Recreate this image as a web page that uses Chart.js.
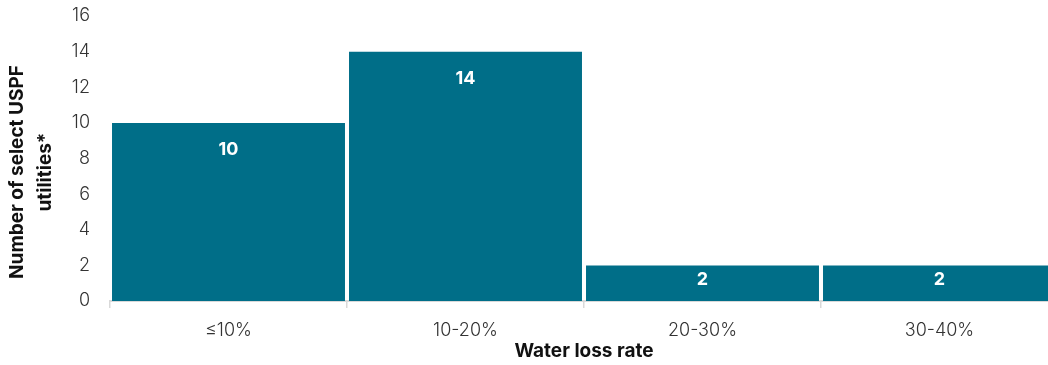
<!DOCTYPE html>
<html>
<head>
<meta charset="utf-8">
<script src="https://cdn.jsdelivr.net/npm/chart.js@4.4.0/dist/chart.umd.min.js"></script>
<style>
  html, body { margin: 0; padding: 0; overflow: hidden; background: #fff; }
  #wrap { width: 1060px; height: 365px; }
</style>
</head>
<body>
<div id="wrap"><canvas id="lossChart"></canvas></div>
<script>
  // data
  const categories = ['\u226410%', '10-20%', '20-30%', '30-40%'];
  const utilities = [10, 14, 2, 2];
  const yTicks = [0, 2, 4, 6, 8, 10, 12, 14, 16];
  const yTitle = ['Number of select USPF', 'utilities*'];
  const xTitle = 'Water loss rate';

  const barColor = '#006e88';
  const fontFamily = 'Inter, Roboto, sans-serif';

  // white value labels near the top of each bar
  const barLabelPlugin = {
    id: 'barLabels',
    afterDatasetsDraw(chart) {
      const ctx = chart.ctx;
      const meta = chart.getDatasetMeta(0);
      ctx.save();
      ctx.fillStyle = '#ffffff';
      ctx.font = 'bold 18px ' + fontFamily;
      ctx.textAlign = 'center';
      ctx.textBaseline = 'middle';
      meta.data.forEach((bar, i) => {
        const h = bar.base - bar.y;
        const y = bar.y + Math.min(27, h / 2 - 4);
        ctx.fillText(String(utilities[i]), bar.x, y);
      });
      ctx.restore();
    }
  };

  // two-line rotated y title
  const yTitlePlugin = {
    id: 'yTitle',
    afterDraw(chart) {
      const ctx = chart.ctx;
      ctx.save();
      ctx.fillStyle = '#111111';
      ctx.font = 'bold 19px ' + fontFamily;
      ctx.textAlign = 'center';
      ctx.textBaseline = 'middle';
      const cy = 172;
      [17, 45].forEach((x, i) => {
        ctx.save();
        ctx.translate(x, cy);
        ctx.rotate(-Math.PI / 2);
        ctx.fillText(yTitle[i], 0, 0);
        ctx.restore();
      });
      ctx.restore();
    }
  };

  new Chart(document.getElementById('lossChart'), {
    type: 'bar',
    data: {
      labels: categories,
      datasets: [{
        data: utilities,
        backgroundColor: barColor,
        borderWidth: 0,
        barPercentage: 0.983,
        categoryPercentage: 1
      }]
    },
    options: {
      responsive: true,
      maintainAspectRatio: false,
      animation: false,
      layout: { padding: { top: 16, right: 2, left: 0, bottom: 0 } },
      plugins: {
        legend: { display: false },
        tooltip: { enabled: false }
      },
      scales: {
        x: {
          grid: {
            display: true,
            offset: true,
            drawOnChartArea: false,
            drawTicks: true,
            tickLength: 7,
            color: '#d9d9d9',
            lineWidth: 1.5
          },
          border: { display: true, color: '#d9d9d9', width: 2 },
          ticks: {
            color: '#333333',
            font: { family: fontFamily, size: 18, weight: '300' },
            padding: 12,
            maxRotation: 0
          },
          title: {
            display: true,
            text: xTitle,
            color: '#111111',
            font: { family: fontFamily, size: 19, weight: 'bold' },
            padding: { top: 0, bottom: 2 }
          },
          afterFit(scale) {
            scale.height = 64;
            scale.paddingLeft = 0;
            scale.paddingRight = 0;
          }
        },
        y: {
          min: 0,
          max: 16,
          grid: { display: false, drawTicks: false },
          border: { display: false },
          afterBuildTicks(scale) { scale.ticks = yTicks.map(v => ({ value: v })); },
          ticks: {
            color: '#333333',
            font: { family: fontFamily, size: 18, weight: '300' },
            padding: 20
          },
          afterFit(scale) {
            scale.width = 110;
            scale.paddingTop = 0;
            scale.paddingBottom = 0;
          }
        }
      }
    },
    plugins: [barLabelPlugin, yTitlePlugin]
  });
</script>
</body>
</html>
